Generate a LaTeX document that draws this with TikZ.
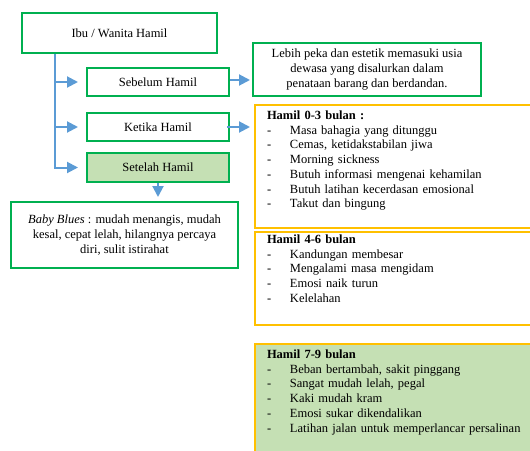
\documentclass[tikz,border=0pt]{standalone}
\usepackage{fontspec}
\setmainfont{Liberation Serif}
\usepackage{xcolor}
\usepackage{tikz}
\usetikzlibrary{arrows.meta}
\definecolor{hamilgreen}{HTML}{00B050}
\definecolor{hamilyellow}{HTML}{FFC000}
\definecolor{hamilblue}{HTML}{5B9BD5}
\definecolor{hamilfill}{HTML}{C5E0B4}
\tikzset{
  greenbox/.style={draw=hamilgreen, line width=2pt, minimum width=142pt, minimum height=28pt, align=center, font=\fontsize{12.5}{14.8}\selectfont},
  listbox/.style={draw=hamilyellow, line width=2pt, anchor=north west, text width=270pt, align=left, inner xsep=12pt, inner ysep=3pt, font=\fontsize{12.5}{14.7}\selectfont},
  arr/.style={draw=hamilblue, line width=2pt, -{Triangle[length=11pt,width=11pt]}}
}
\newcommand{\butir}[1]{\makebox[23pt][l]{-}#1}

\begin{document}
\begin{tikzpicture}[x=1pt, y=-1pt]
    \clip (0, 0) rectangle (530, 450);

    \node[greenbox, minimum width=195pt, minimum height=40pt] at (119.5, 33) (ibu) {Ibu / Wanita Hamil};
    \node[greenbox] at (158, 82) (sebelum) {Sebelum Hamil};
    \node[greenbox] at (158, 127) (ketika) {Ketika Hamil};
    \node[greenbox, fill=hamilfill, minimum height=29pt] at (158, 167.5) (setelah) {Setelah Hamil};
    \node[greenbox, minimum width=227pt, minimum height=66pt] at (124.5, 235) (babyblues) {\textit{Baby Blues} : mudah menangis, mudah\\ kesal, cepat lelah, hilangnya percaya\\ diri, sulit istirahat};
    \node[greenbox, minimum width=228pt, minimum height=53pt] at (367, 69.5) (lebih) {Lebih peka dan estetik memasuki usia\\ dewasa yang disalurkan dalam\\ penataan barang dan berdandan.};

    \node[listbox, text height=11.5pt, text depth=105pt] at (254, 104) (hamil03) {\textbf{Hamil 0-3 bulan :}\\
      \butir{Masa bahagia yang ditunggu}\\
      \butir{Cemas, ketidakstabilan jiwa}\\
      \butir{Morning sickness}\\
      \butir{Butuh informasi mengenai kehamilan}\\
      \butir{Butuh latihan kecerdasan emosional}\\
      \butir{Takut dan bingung}};
    \node[listbox, text height=9pt, text depth=78pt] at (254, 230.5) (hamil46) {\textbf{Hamil 4-6 bulan}\\
      \butir{Kandungan membesar}\\
      \butir{Mengalami masa mengidam}\\
      \butir{Emosi naik turun}\\
      \butir{Kelelahan}};
    \node[listbox, fill=hamilfill, text height=11.8pt, text depth=100pt] at (254, 342.7) (hamil79) {\textbf{Hamil 7-9 bulan}\\
      \butir{Beban bertambah, sakit pinggang}\\
      \butir{Sangat mudah lelah, pegal}\\
      \butir{Kaki mudah kram}\\
      \butir{Emosi sukar dikendalikan}\\
      \butir{Latihan jalan untuk memperlancar persalinan}};

    \coordinate (trunk) at ([xshift=34pt]ibu.south west);
    \draw[arr, shorten >=8pt] (trunk) |- (sebelum);
    \draw[arr, shorten >=8pt] (trunk) |- (ketika);
    \draw[arr, shorten >=8pt] (trunk) |- (setelah);
    \draw[arr, shorten >=2pt] ([yshift=2pt]sebelum.east) -- ([yshift=2pt]sebelum.east -| lebih.west);
    \draw[arr, shorten >=4pt] ([xshift=-3pt]ketika.east) -- (ketika.east -| hamil03.west);
    \draw[arr, shorten >=4pt] (setelah) -- (setelah |- babyblues.north);
\end{tikzpicture}
\end{document}
